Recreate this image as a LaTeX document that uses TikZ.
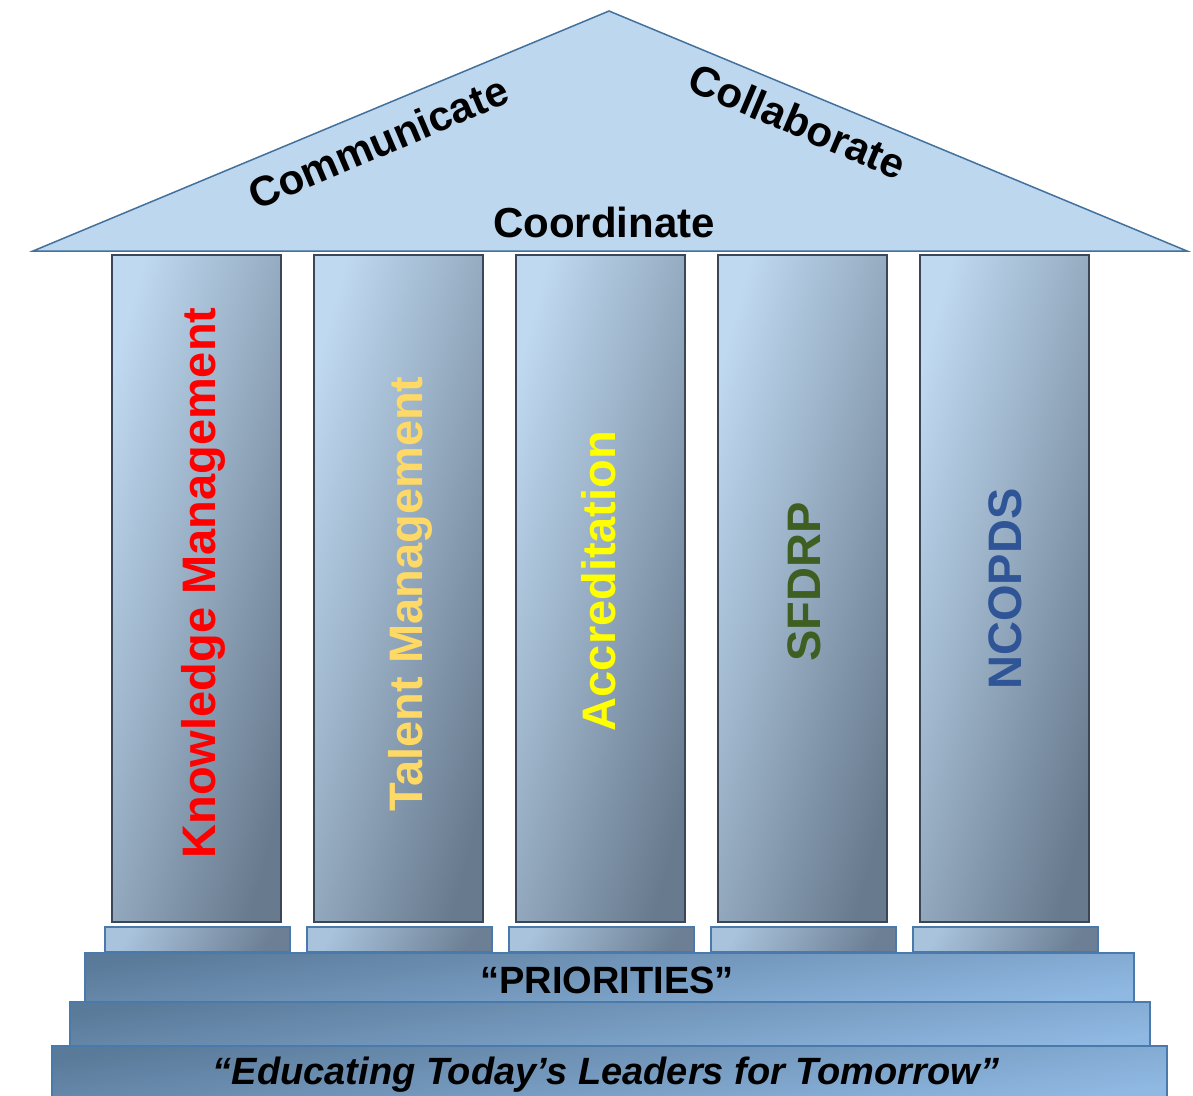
\documentclass[tikz,border=0pt]{standalone}
\usepackage{fontspec}
\setmainfont{Liberation Sans}
\definecolor{roofFill}{HTML}{BDD7EE}
\definecolor{roofLine}{HTML}{41719C}
\definecolor{colTop}{HTML}{BFD9F0}
\definecolor{colBot}{HTML}{687A8E}
\definecolor{colLine}{HTML}{3B4658}
\definecolor{stepTop}{HTML}{5A7A99}
\definecolor{stepBot}{HTML}{8FB8E2}
\definecolor{stepLine}{HTML}{4A79AC}
\definecolor{plL}{HTML}{A9C3DC}
\definecolor{plR}{HTML}{6C7F94}
\definecolor{kmRed}{HTML}{FF0000}
\definecolor{tmGold}{HTML}{FFD966}
\definecolor{accYel}{HTML}{FFFF00}
\definecolor{sfGreen}{HTML}{3F5F22}
\definecolor{ncBlue}{HTML}{2F5597}
\begin{document}
\begin{tikzpicture}[x=1pt,y=-1pt,
  roof/.style={draw=roofLine,line width=1.5pt,fill=roofFill,line join=miter},
  column/.style={draw=colLine,line width=1.5pt,top color=colTop,bottom color=colBot,shading angle=75},
  plinth/.style={draw=stepLine,line width=1.2pt,top color=plL,bottom color=plR,shading angle=60},
  stepbox/.style={draw=stepLine,line width=1.2pt,top color=stepTop,bottom color=stepBot,shading angle=8},
  rooftext/.style={font=\bfseries\fontsize{42}{50}\selectfont,text=black,inner sep=0pt},
  coltext/.style={font=\bfseries\fontsize{47}{56}\selectfont,rotate=90,anchor=base,inner sep=0pt},
  basetext/.style={font=\bfseries\fontsize{38}{46}\selectfont,text=black,anchor=base,inner sep=0pt}]
\useasboundingbox (0,0) rectangle (1193,1095);
% roof
\draw[roof] (609,11) -- (1187,251) -- (33,251) -- cycle;
% columns and plinths
\foreach \x in {112,314,516,718,920}{
  \draw[column] (\x,255) rectangle ++(169,667);
  \draw[plinth] (\x-7,927) rectangle ++(185,25);
}
% steps
\draw[stepbox] (52,1046) rectangle (1167,1097);
\draw[stepbox] (70,1002) rectangle (1150,1046);
\draw[stepbox] (85,953) rectangle (1134,1002);
% roof texts
\node[rooftext,rotate=23,anchor=base] (comm) at (384,156) {Communicate};
\node[rooftext,rotate=-23,anchor=base] (coll) at (792,135) {Collaborate};
\node[rooftext,anchor=base] (coord) at (604,237) {Coordinate};
% column texts
\node[coltext,text=kmRed] (km) at (215,583) {Knowledge Management};
\node[coltext,text=tmGold] (tm) at (422,594) {Talent Management};
\node[coltext,text=accYel] (acc) at (615,581) {Accreditation};
\node[coltext,text=sfGreen] (sf) at (820,582) {SFDRP};
\node[coltext,text=ncBlue] (nc) at (1021,589) {NCOPDS};
% base texts
\node[basetext] (prio) at (607,993) {“PRIORITIES”};
\node[basetext,font=\bfseries\itshape\fontsize{38}{46}\selectfont] (motto) at (606,1084) {“Educating Today’s Leaders for Tomorrow”};
\end{tikzpicture}
\end{document}
